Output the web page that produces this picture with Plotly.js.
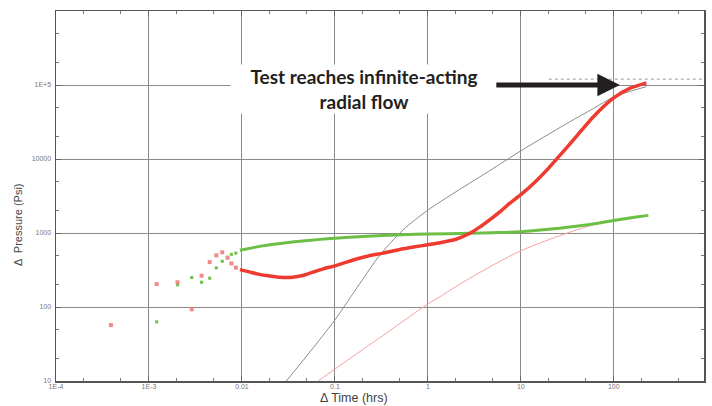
<!DOCTYPE html>
<html>
<head>
<meta charset="utf-8">
<script src="https://cdn.plot.ly/plotly-3.0.1.min.js"></script>
<style>html,body{margin:0;padding:0;background:#fff;}#chart{width:712px;height:406px;}</style>
</head>
<body>
<div id="chart"></div>
<script>
// ---- data ----
const xTickVals = [1e-4, 1e-3, 0.01, 0.1, 1, 10, 100];
const xTickText = ["1E-4", "1E-3", "0.01", "0.1", "1", "10", "100"];
const yTickVals = [10, 100, 1000, 10000, 100000];
const yTickText = ["10", "100", "1000", "10000", "1E+5"];

// early scattered points
const redPtsX = [3.9e-4, 1.21e-3, 2.03e-3, 2.88e-3, 3.68e-3, 4.5e-3, 5.3e-3, 6.14e-3, 7.0e-3, 7.7e-3, 8.6e-3];
const redPtsY = [57, 204, 216, 93, 265, 405, 499, 548, 463, 388, 340];
const greenPtsX = [1.21e-3, 2.03e-3, 2.88e-3, 3.68e-3, 4.5e-3, 5.3e-3, 6.14e-3, 7.0e-3, 7.7e-3, 8.6e-3];
const greenPtsY = [63, 199, 250, 216, 245, 338, 415, 470, 515, 535];

// pressure change (red)
const redX = [0.0095, 0.012, 0.015, 0.02, 0.025, 0.033, 0.045, 0.058, 0.075, 0.1, 0.13, 0.171, 0.23, 0.33, 0.5, 0.7, 1, 1.35, 2.04, 2.83, 3.6, 4.65, 6, 7.5, 10, 14.7, 20, 26, 40, 60, 98, 148, 224];
const redY = [320, 298, 278, 262, 253, 250, 266, 296, 328, 360, 400, 445, 490, 534, 600, 645, 695, 740, 830, 990, 1200, 1520, 1950, 2500, 3300, 5100, 7600, 11000, 20500, 37000, 66000, 90000, 107000];

// derivative (green)
const greenX = [0.0095, 0.0125, 0.016, 0.02, 0.03, 0.045, 0.069, 0.1, 0.2, 0.54, 1, 2.83, 5, 10, 20, 50, 100, 160, 235];
const greenY = [585, 625, 665, 695, 740, 780, 820, 850, 895, 950, 970, 990, 1010, 1040, 1120, 1280, 1480, 1620, 1730];

// model curve (gray)
const grayX = [0.030, 0.05, 0.1, 0.186, 0.305, 0.54, 1, 2, 5, 10, 31, 60, 100, 224];
const grayY = [10, 22, 67, 209, 503, 1100, 2040, 3600, 7400, 12900, 30000, 48000, 69000, 95000];

// model derivative (pink)
const pinkX = [0.066, 0.1, 0.3, 1, 1.35, 2.83, 10, 50.8, 100, 235];
const pinkY = [10, 14.5, 38, 110, 138, 245, 575, 1215, 1480, 1730];

// dashed reference level
const refX = [20, 1000];
const refY = [120000, 120000];

const traces = [
  {x: refX, y: refY, mode: 'lines', line: {color: '#9a9a9a', width: 1, dash: 'dot'}, hoverinfo: 'skip'},
  {x: grayX, y: grayY, mode: 'lines', line: {color: '#8c8c8c', width: 1, shape: 'spline', smoothing: 0.8}},
  {x: pinkX, y: pinkY, mode: 'lines', line: {color: '#f4a3a3', width: 1, shape: 'spline', smoothing: 0.8}},
  {x: greenPtsX, y: greenPtsY, mode: 'markers', marker: {color: '#6cbf45', size: 3, symbol: 'square'}},
  {x: redPtsX, y: redPtsY, mode: 'markers', marker: {color: '#f08a8a', size: 4, symbol: 'square'}},
  {x: greenX, y: greenY, mode: 'lines', line: {color: '#6cbf45', width: 3, shape: 'spline', smoothing: 0.6}},
  {x: redX, y: redY, mode: 'lines', line: {color: '#ee3a2f', width: 3.5, shape: 'spline', smoothing: 0.6}}
];

const tickFont = {family: 'Liberation Sans, Arial, sans-serif', size: 7, color: '#777'};
const axisCommon = {
  type: 'log', showline: true, linecolor: '#555', linewidth: 1.5, mirror: 'allticks',
  ticks: 'inside', ticklen: 5, tickcolor: '#666', tickwidth: 1,
  showgrid: true, gridcolor: '#8a8a8a', gridwidth: 1, zeroline: false,
  tickfont: tickFont, tickmode: 'array',
  minor: {ticks: 'inside', ticklen: 3, tickcolor: '#777', showgrid: false}
};

const layout = {
  width: 712, height: 406,
  margin: {l: 56, r: 8, t: 11, b: 25},
  paper_bgcolor: '#fff', plot_bgcolor: '#fff',
  showlegend: false,
  xaxis: Object.assign({}, axisCommon, {range: [-4, 2.97], tickvals: xTickVals, ticktext: xTickText, ticklabelstandoff: -2}),
  yaxis: Object.assign({}, axisCommon, {range: [1, 6], tickvals: yTickVals, ticktext: yTickText, ticklabelstandoff: 2}),
  annotations: [
    {xref: 'x', yref: 'y', x: -0.69, y: 4.94, showarrow: false,
     text: 'Test reaches infinite-acting<br>radial flow',
     font: {family: 'Lato, sans-serif', size: 19, color: '#231f20', weight: 'bold'},
     bgcolor: '#fff', width: 264, height: 46, align: 'center'},
    {xref: 'x', yref: 'y', axref: 'x', ayref: 'y', x: 2.065, y: 5.0, ax: 0.72, ay: 5.0,
     text: '', showarrow: true, arrowhead: 2, arrowwidth: 5, arrowsize: 0.9, arrowcolor: '#231f20', standoff: 0},
    {xref: 'paper', yref: 'paper', x: (354 - 56) / 648, y: (381 - 398) / 370, yanchor: 'middle', showarrow: false,
     text: 'Δ Time (hrs)', font: {family: 'Liberation Sans, Arial, sans-serif', size: 12.5, color: '#444'}},
    {xref: 'paper', yref: 'paper', x: (18 - 56) / 648, xanchor: 'center', y: (381 - 225) / 370, showarrow: false, textangle: -90,
     text: 'Δ  Pressure (Psi)', font: {family: 'Liberation Sans, Arial, sans-serif', size: 11, color: '#444'}}
  ]
};

Plotly.newPlot('chart', traces, layout, {staticPlot: true, displayModeBar: false});
</script>
</body>
</html>
